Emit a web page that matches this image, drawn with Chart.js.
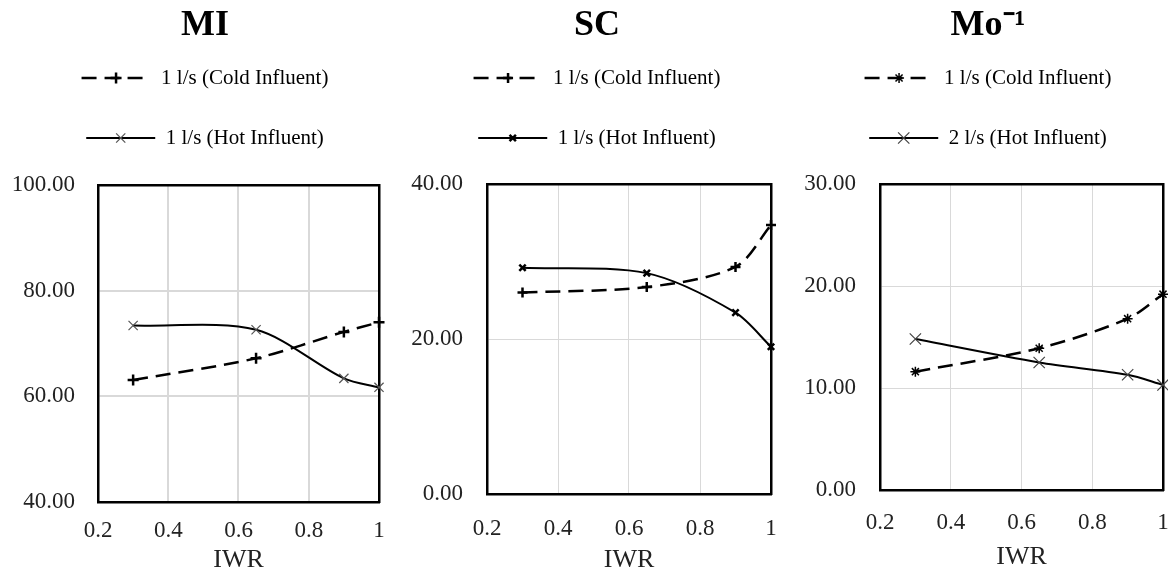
<!DOCTYPE html>
<html>
<head>
<meta charset="utf-8">
<script src="https://cdn.jsdelivr.net/npm/chart.js@4.4.1/dist/chart.umd.min.js"></script>
<style>
  html, body { margin: 0; padding: 0; background: #fff; overflow: hidden; }
  body { width: 1168px; height: 573px; position: relative; }
  .panel { position: absolute; top: 0; height: 573px; }
</style>
</head>
<body>
<div class="panel" style="left:0px;width:410px"><canvas id="chart_mi"></canvas></div>
<div class="panel" style="left:390px;width:414px"><canvas id="chart_sc"></canvas></div>
<div class="panel" style="left:780px;width:416px"><canvas id="chart_mo"></canvas></div>
<script>
// IWR values (x) shared by all three panels
var iwr = [0.3, 0.65, 0.9, 1];
var x_ticks = [0.2, 0.4, 0.6, 0.8, 1];

// MI
var mi_cold = [63.1, 67.2, 72.2, 74.0];
var mi_hot  = [73.4, 72.6, 63.4, 61.7];
var mi_ticks = [40, 60, 80, 100];

// SC
var sc_cold = [26.0, 26.7, 29.3, 34.7];
var sc_hot  = [29.2, 28.5, 23.4, 19.0];
var sc_ticks = [0, 20, 40];

// Mo-1
var mo_cold = [11.6, 13.9, 16.8, 19.2];
var mo_hot  = [14.8, 12.5, 11.3, 10.3];
var mo_ticks = [0, 10, 20, 30];

var names_1 = ['1 l/s (Cold Influent)', '1 l/s (Hot Influent)'];
var names_2 = ['1 l/s (Cold Influent)', '2 l/s (Hot Influent)'];

Chart.defaults.font.family = "'Liberation Serif', 'Times New Roman', serif";
Chart.defaults.color = '#000';

function to_points(ys) {
  return iwr.map(function(x, i) { return {x: x, y: ys[i]}; });
}

function fixed_ticks(list) {
  return function(scale) {
    scale.ticks = list.map(function(v) { return {value: v}; });
  };
}

// draws the line sample + marker in front of each legend text
var legend_lines = {
  id: 'legend_lines',
  afterDraw: function(chart) {
    var legend = chart.legend;
    if (!legend || !legend.legendHitBoxes) return;
    var ctx = chart.ctx;
    var bw = legend.options.labels.boxWidth;
    legend.legendHitBoxes.forEach(function(box, i) {
      var ds = chart.data.datasets[i];
      var y = box.top + box.height / 2;
      ctx.save();
      ctx.strokeStyle = ds.borderColor;
      ctx.lineWidth = ds.borderWidth;
      ctx.setLineDash(ds.borderDash || []);
      ctx.beginPath();
      ctx.moveTo(box.left, y);
      ctx.lineTo(box.left + bw, y);
      ctx.stroke();
      ctx.setLineDash([]);
      ctx.strokeStyle = ds.pointBorderColor;
      ctx.fillStyle = 'rgba(0,0,0,0)';
      ctx.lineWidth = ds.pointBorderWidth;
      Chart.helpers.drawPoint(ctx, {
        pointStyle: ds.pointStyle, radius: ds.pointRadius, rotation: 0, borderWidth: ds.pointBorderWidth
      }, box.left + bw / 2, y);
      ctx.restore();
    });
  }
};

function make_chart(id, o) {
  var ymin = o.ticks[0], ymax = o.ticks[o.ticks.length - 1];
  var grid_color = function(lo, hi) {
    return function(c) {
      if (!c.tick || c.tick.value <= lo || c.tick.value >= hi) return 'rgba(0,0,0,0)';
      return '#d9d9d9';
    };
  };
  var edge = function(size, key) {
    return function(scale) { scale[key] = size; };
  };

  return new Chart(document.getElementById(id), {
    type: 'line',
    data: {
      datasets: [
        {
          label: o.names[0],
          data: to_points(o.cold),
          borderColor: '#000',
          borderWidth: 2.5,
          borderDash: [15, 8],
          tension: 0.3,
          clip: false,
          pointStyle: o.cold_mark[0],
          pointRadius: o.cold_mark[1],
          pointBorderWidth: o.cold_mark[2],
          pointBorderColor: o.cold_mark[3],
          pointBackgroundColor: 'rgba(0,0,0,0)'
        },
        {
          label: o.names[1],
          data: to_points(o.hot),
          borderColor: '#000',
          borderWidth: 2,
          tension: 0.3,
          clip: false,
          pointStyle: o.hot_mark[0],
          pointRadius: o.hot_mark[1],
          pointBorderWidth: o.hot_mark[2],
          pointBorderColor: o.hot_mark[3],
          pointBackgroundColor: 'rgba(0,0,0,0)'
        }
      ]
    },
    options: {
      responsive: true,
      maintainAspectRatio: false,
      animation: false,
      layout: { padding: 0 },
      plugins: {
        title: {
          display: true,
          text: o.title,
          color: '#000',
          font: { size: 36, weight: 'bold', lineHeight: 1 },
          padding: { top: 8, bottom: 4 }
        },
        legend: {
          display: true,
          position: 'top',
          labels: {
            boxWidth: 69,
            boxHeight: 60,
            padding: 0,
            color: '#000',
            font: { size: 21 },
            generateLabels: function(chart) {
              return chart.data.datasets.map(function(ds, i) {
                return {
                  text: ds.label, datasetIndex: i, hidden: false,
                  fillStyle: 'rgba(0,0,0,0)', strokeStyle: 'rgba(0,0,0,0)', lineWidth: 0
                };
              });
            }
          }
        },
        tooltip: { enabled: false }
      },
      scales: {
        x: {
          type: 'linear',
          min: 0.2,
          max: 1,
          afterBuildTicks: fixed_ticks(x_ticks),
          afterFit: edge(o.x_height, 'height'),
          grid: { color: grid_color(0.2, 1), lineWidth: o.grid_w, drawTicks: false },
          border: { display: true, color: '#000', width: 2.5 },
          ticks: {
            padding: o.x_pad,
            color: '#222',
            font: { size: 23 },
            callback: function(v) { return String(+v.toFixed(2)); }
          },
          title: {
            display: true,
            text: 'IWR',
            color: '#222',
            font: { size: 26, lineHeight: 1 },
            padding: { top: 0, bottom: o.t_pad }
          }
        },
        y: {
          type: 'linear',
          min: ymin,
          max: ymax,
          afterBuildTicks: fixed_ticks(o.ticks),
          afterFit: edge(o.y_width, 'width'),
          grid: { color: grid_color(ymin, ymax), lineWidth: o.grid_w, drawTicks: false },
          border: { display: true, color: '#000', width: 2.5 },
          ticks: {
            padding: o.y_pad,
            color: '#222',
            font: { size: 23 },
            callback: function(v) { return v.toFixed(2); }
          }
        },
        x2: {
          type: 'linear',
          position: 'top',
          afterFit: edge(o.top_gap, 'height'),
          grid: { display: false, drawTicks: false },
          border: { display: true, color: '#000', width: 2.5 },
          ticks: { display: false }
        },
        y2: {
          type: 'linear',
          position: 'right',
          afterFit: edge(o.right, 'width'),
          grid: { display: false, drawTicks: false },
          border: { display: true, color: '#000', width: 2.5 },
          ticks: { display: false }
        }
      }
    },
    plugins: [legend_lines]
  });
}

make_chart('chart_mi', {
  title: 'MI', names: names_1, cold: mi_cold, hot: mi_hot, ticks: mi_ticks,
  cold_mark: ['cross', 5.5, 2.5, '#000'], hot_mark: ['crossRot', 6.5, 1.2, '#555'],
  y_width: 98, y_pad: 23, right: 31, top_gap: 7, x_height: 71, x_pad: 15, t_pad: 0, grid_w: 2
});

make_chart('chart_sc', {
  title: 'SC', names: names_1, cold: sc_cold, hot: sc_hot, ticks: sc_ticks,
  cold_mark: ['cross', 5, 2.5, '#000'], hot_mark: ['crossRot', 4.5, 2.5, '#000'],
  y_width: 97, y_pad: 24, right: 33, top_gap: 6, x_height: 79, x_pad: 21, t_pad: 0, grid_w: 1
});

make_chart('chart_mo', {
  title: 'Mo\u207B\u00B9', names: names_2, cold: mo_cold, hot: mo_hot, ticks: mo_ticks,
  cold_mark: ['star', 5, 1.5, '#000'], hot_mark: ['crossRot', 8, 1.2, '#444'],
  y_width: 100, y_pad: 24, right: 33, top_gap: 6, x_height: 83, x_pad: 19, t_pad: 3, grid_w: 1
});
</script>
</body>
</html>
